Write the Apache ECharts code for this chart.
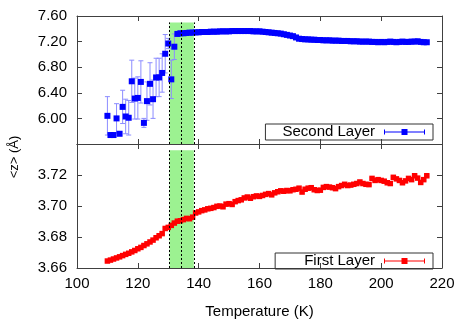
<!DOCTYPE html>
<html>
<head>
<meta charset="utf-8">
<script src="https://cdn.jsdelivr.net/npm/echarts@6/dist/echarts.min.js"></script>
<style>html,body{margin:0;padding:0;background:#fff}#c{width:458px;height:320px}</style>
</head>
<body>
<div id="c"></div>
<script>
// ---- data ----
const temperature = [110,111,112,113,114,115,116,117,118,119,120,121,122,123,124,125,126,127,128,129,
130,131,132,133,134,135,136,137,138,139,140,141,142,143,144,145,146,147,148,149,
150,151,152,153,154,155,156,157,158,159,160,161,162,163,164,165,166,167,168,169,
170,171,172,173,174,175,176,177,178,179,180,181,182,183,184,185,186,187,188,189,
190,191,192,193,194,195,196,197,198,199,200,201,202,203,204,205,206,207,208,209,
210,211,212,213,214,215];

const secondLayer = [6.04,5.74,5.74,6.00,5.76,6.18,6.03,6.01,6.58,6.31,6.32,6.57,5.93,6.27,6.54,6.30,6.64,6.64,6.71,7.01,
7.17,6.61,7.12,7.32,7.33,7.33,7.335,7.34,7.34,7.345,7.345,7.35,7.35,7.35,7.355,7.355,7.355,7.36,7.36,7.36,
7.36,7.365,7.365,7.365,7.365,7.365,7.365,7.365,7.36,7.36,7.36,7.355,7.35,7.345,7.34,7.335,7.33,7.325,7.315,7.305,
7.295,7.285,7.265,7.245,7.24,7.235,7.235,7.23,7.23,7.225,7.225,7.22,7.22,7.22,7.215,7.215,7.215,7.21,7.21,7.21,
7.205,7.205,7.205,7.2,7.2,7.2,7.2,7.195,7.195,7.19,7.195,7.19,7.195,7.2,7.195,7.19,7.195,7.2,7.195,7.195,
7.2,7.2,7.205,7.195,7.19,7.19];

const secondLayerErr = [0.30,0.03,0.03,0.23,0.03,0.26,0.27,0.27,0.33,0.32,0.33,0.33,0.07,0.30,0.33,0.30,0.30,0.30,0.30,0.30,
0.08,0.30,0.20,0.02,0.01,0.01,0.01,0.01,0.01,0.01,0.01,0.01,0.01,0.01,0.01,0.01,0.01,0.01,0.01,0.01,
0.01,0.01,0.01,0.01,0.01,0.01,0.01,0.01,0.01,0.01,0.01,0.01,0.01,0.01,0.01,0.01,0.01,0.01,0.01,0.01,
0.01,0.01,0.01,0.01,0.01,0.01,0.01,0.01,0.01,0.01,0.01,0.01,0.01,0.01,0.01,0.01,0.01,0.01,0.01,0.01,
0.01,0.01,0.01,0.01,0.01,0.01,0.01,0.01,0.01,0.01,0.01,0.01,0.01,0.01,0.01,0.01,0.01,0.01,0.01,0.01,
0.01,0.01,0.01,0.01,0.01,0.01];

const firstLayer = [3.6645,3.6651,3.6658,3.6665,3.6672,3.6680,3.6688,3.6695,3.6704,3.6713,
3.6724,3.6733,3.6745,3.6756,3.6768,3.6780,3.6795,3.6808,3.6822,3.6855,
3.6862,3.6875,3.6890,3.6902,3.6905,3.6912,3.6920,3.6918,3.6928,3.6955,
3.6962,3.6970,3.6975,3.6982,3.6985,3.6990,3.6998,3.7000,3.6995,3.7012,
3.7015,3.7010,3.7028,3.7035,3.7040,3.7052,3.7058,3.7050,3.7060,3.7065,
3.7062,3.7068,3.7075,3.7080,3.7072,3.7085,3.7092,3.7098,3.7095,3.7100,
3.7098,3.7105,3.7108,3.7115,3.7090,3.7108,3.7115,3.7118,3.7105,3.7100,
3.7102,3.7120,3.7125,3.7122,3.7118,3.7112,3.7125,3.7132,3.7140,3.7132,
3.7135,3.7140,3.7145,3.7155,3.7145,3.7140,3.7138,3.7178,3.7165,3.7170,
3.7165,3.7160,3.7150,3.7145,3.7185,3.7175,3.7165,3.7150,3.7162,3.7178,
3.7170,3.7195,3.7180,3.7152,3.7170,3.7195];

const firstLayerErr = [0.0005,0.0005,0.0005,0.0005,0.0005,0.0005,0.0005,0.0005,0.0005,0.0005,
0.0005,0.0005,0.0005,0.0005,0.0005,0.0005,0.0005,0.0005,0.0005,0.0005,
0.0005,0.0005,0.0005,0.0005,0.0005,0.0005,0.0005,0.0005,0.0005,0.0005,
0.0005,0.0005,0.0005,0.0005,0.0005,0.0005,0.0005,0.0005,0.0005,0.0005,
0.0005,0.0005,0.0005,0.0005,0.0005,0.0005,0.0005,0.0005,0.0005,0.0005,
0.0005,0.0005,0.0005,0.0005,0.0005,0.0005,0.0005,0.0005,0.0005,0.0005,
0.0005,0.0005,0.0005,0.0005,0.0005,0.0005,0.0005,0.0005,0.0005,0.0005,
0.0005,0.0005,0.0005,0.0005,0.0005,0.0005,0.0005,0.0005,0.0005,0.0005,
0.0005,0.0005,0.0005,0.0005,0.0005,0.0005,0.0005,0.0005,0.0005,0.0005,
0.0005,0.0005,0.0005,0.0005,0.0005,0.0005,0.0005,0.0005,0.0005,0.0005,
0.0005,0.0005,0.0005,0.0005,0.0005,0.0005];

const bandT = [130.4, 138.4];
const bandLinesT = [130.4, 134.4, 138.4];
const topBandY = [5.6, 7.5];
const botBandY = [3.66, 3.736];

const xTicks = { min: 100, max: 220, interval: 20 };
const topTicks = { min: 5.6, max: 7.6, interval: 0.4 };
const botTicks = { min: 3.66, max: 3.74, interval: 0.02 };

// ---- chart ----
const FONT = 'Liberation Sans, Arial, sans-serif';
const frame = '#404040';
const chart = echarts.init(document.getElementById('c'), null, { renderer: 'canvas' });

function pairs(ys, errs) { return temperature.map((t, i) => [t, ys[i], errs[i]]); }

function errRender(color) {
  return function (params, api) {
    const x = api.value(0), y = api.value(1), e = api.value(2);
    const p1 = api.coord([x, y + e]);
    const p2 = api.coord([x, y - e]);
    const cw = 2.5;
    const st = { stroke: color, lineWidth: 1 };
    return {
      type: 'group',
      children: [
        { type: 'line', shape: { x1: p1[0], y1: p1[1], x2: p2[0], y2: p2[1] }, style: st },
        { type: 'line', shape: { x1: p1[0] - cw, y1: p1[1], x2: p1[0] + cw, y2: p1[1] }, style: st },
        { type: 'line', shape: { x1: p2[0] - cw, y1: p2[1], x2: p2[0] + cw, y2: p2[1] }, style: st }
      ]
    };
  };
}

function xAx(gi, pos, showLabels, name) {
  return {
    type: 'value', gridIndex: gi, position: pos,
    min: xTicks.min, max: xTicks.max, interval: xTicks.interval,
    axisLine: { show: true, onZero: false, lineStyle: { color: frame, width: 1 } },
    axisTick: { show: true, inside: true, length: 5, lineStyle: { color: frame } },
    axisLabel: { show: showLabels, color: '#000', fontSize: 15, fontFamily: FONT, margin: 8 },
    splitLine: { show: false },
    name: name || '', nameLocation: 'middle', nameGap: 36,
    nameTextStyle: { color: '#000', fontSize: 15, fontFamily: FONT }
  };
}
function yAx(gi, pos, t, showLabels, hideMin, hideMax) {
  return {
    type: 'value', gridIndex: gi, position: pos,
    min: t.min, max: t.max, interval: t.interval,
    axisLine: { show: true, onZero: false, lineStyle: { color: frame, width: 1 } },
    axisTick: { show: true, inside: true, length: 5, lineStyle: { color: frame } },
    axisLabel: { show: showLabels, color: '#000', fontSize: 15, fontFamily: FONT, margin: 10,
      showMinLabel: !hideMin, showMaxLabel: !hideMax,
      formatter: v => v.toFixed(2) },
    splitLine: { show: false }
  };
}

const legendIcon = 'path://M0,3L41,3L41,4L0,4Z M0,1L1,1L1,6L0,6Z M40,1L41,1L41,6L40,6Z M17.5,0.5L23.5,0.5L23.5,6.5L17.5,6.5Z';

function bandArea(yr) {
  return {
    silent: true,
    itemStyle: { color: '#9cf291', opacity: 1 },
    data: [[{ coord: [bandT[0], yr[0]] }, { coord: [bandT[1], yr[1]] }]]
  };
}
function bandLines(yr) {
  return {
    silent: true, symbol: 'none', label: { show: false },
    lineStyle: { color: '#000', type: [2, 2], width: 1 },
    data: bandLinesT.map(t => [{ coord: [t, yr[0]] }, { coord: [t, yr[1]] }])
  };
}

const option = {
  animation: false,
  backgroundColor: '#fff',
  grid: [
    { left: 77, right: 16, top: 16, height: 128, show: false },
    { left: 77, right: 16, top: 144, height: 129, show: false }
  ],
  xAxis: [
    xAx(0, 'bottom', false),
    xAx(0, 'top', false),
    xAx(1, 'bottom', true, 'Temperature (K)'),
    xAx(1, 'top', false)
  ],
  yAxis: [
    yAx(0, 'left', topTicks, true, true, false),
    yAx(0, 'right', topTicks, false),
    yAx(1, 'left', botTicks, true, false, true),
    yAx(1, 'right', botTicks, false)
  ],
  legend: [
    {
      data: [{ name: 'Second Layer', icon: legendIcon }],
      right: 25, top: 124, align: 'right', orient: 'horizontal',
      itemWidth: 41, itemHeight: 7,
      borderColor: '#333', borderWidth: 1, borderRadius: 0,
      padding: [0, 8, 0, 17],
      textStyle: { color: '#000', fontSize: 15, fontFamily: FONT, lineHeight: 16, padding: [0, 4, 0, 0] },
      selectedMode: false
    },
    {
      data: [{ name: 'First Layer', icon: legendIcon }],
      right: 25, top: 253, align: 'right', orient: 'horizontal',
      itemWidth: 41, itemHeight: 7,
      borderColor: '#333', borderWidth: 1, borderRadius: 0,
      padding: [0, 8, 0, 29],
      textStyle: { color: '#000', fontSize: 15, fontFamily: FONT, lineHeight: 16, padding: [0, 4, 0, 0] },
      selectedMode: false
    }
  ],
  graphic: [
    {
      type: 'text', x: 14, y: 157, rotation: Math.PI / 2,
      style: { text: '<z> (Å)', fontSize: 13, fontFamily: FONT, fill: '#000',
        align: 'center', verticalAlign: 'middle' }
    }
  ],
  series: [
    {
      name: 'band-top', type: 'line', xAxisIndex: 0, yAxisIndex: 0, data: [], z: 1,
      markArea: bandArea(topBandY), markLine: bandLines(topBandY)
    },
    {
      name: 'band-bot', type: 'line', xAxisIndex: 2, yAxisIndex: 2, data: [], z: 1,
      markArea: bandArea(botBandY), markLine: bandLines(botBandY)
    },
    {
      name: 'Second Layer err', type: 'custom', xAxisIndex: 0, yAxisIndex: 0, z: 3,
      renderItem: errRender('#8c8cff'), data: pairs(secondLayer, secondLayerErr),
      encode: { x: 0, y: 1 }, clip: true
    },
    {
      name: 'Second Layer', type: 'scatter', xAxisIndex: 0, yAxisIndex: 0, z: 4,
      symbol: 'rect', symbolSize: 6, itemStyle: { color: '#0000ff', opacity: 1 },
      data: temperature.map((t, i) => [t, secondLayer[i]])
    },
    {
      name: 'First Layer err', type: 'custom', xAxisIndex: 2, yAxisIndex: 2, z: 3,
      renderItem: errRender('#ff8c8c'), data: pairs(firstLayer, firstLayerErr),
      encode: { x: 0, y: 1 }, clip: true
    },
    {
      name: 'First Layer', type: 'scatter', xAxisIndex: 2, yAxisIndex: 2, z: 4,
      symbol: 'rect', symbolSize: 5.5, itemStyle: { color: '#ff0000', opacity: 1 },
      data: temperature.map((t, i) => [t, firstLayer[i]])
    }
  ]
};
chart.setOption(option);
</script>
</body>
</html>
